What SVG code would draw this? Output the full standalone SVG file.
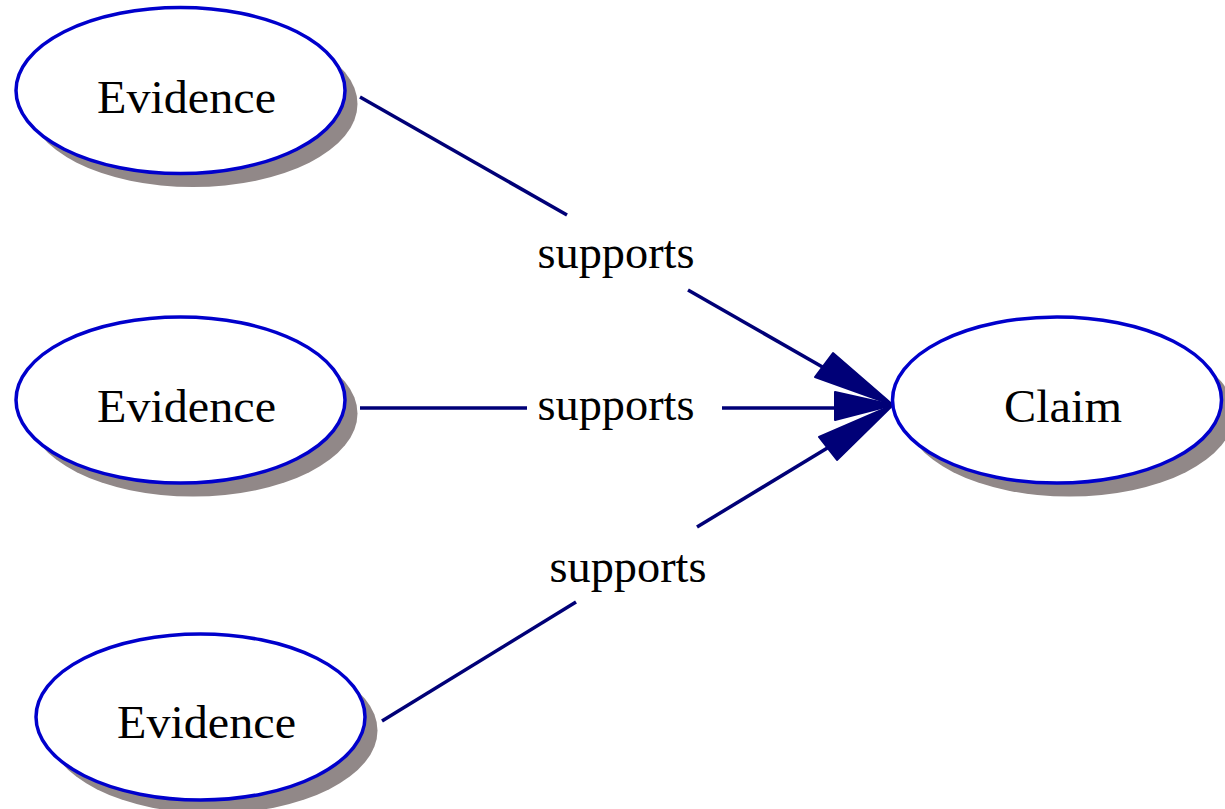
<svg xmlns="http://www.w3.org/2000/svg" width="1225" height="809" viewBox="0 0 1225 809">
<style>
.shadow{fill:#918888;stroke:none}
.node{fill:#ffffff;stroke:#0000cc;stroke-width:3.5}
.lbl{font-family:"Liberation Serif","Times New Roman",serif;font-size:47px;fill:#000000;text-anchor:middle}
.edge{stroke:#000077;stroke-width:3.5;fill:none}
.head{fill:#000077;stroke:#000077;stroke-width:2;stroke-linejoin:round}
</style>
<rect width="1225" height="809" fill="#ffffff"/>
<g id="connectors">
  <line class="edge" x1="360" y1="97" x2="567" y2="215"/>
  <line class="edge" x1="688" y1="290" x2="826" y2="369"/>
  <polygon class="head" points="815,377 833,353 893,405"/>
  <text class="lbl" x="616" y="268" textLength="157" lengthAdjust="spacingAndGlyphs">supports</text>

  <line class="edge" x1="360" y1="408" x2="527" y2="408"/>
  <line class="edge" x1="722" y1="408" x2="837" y2="408"/>
  <polygon class="head" points="835,392 835,420 893,405"/>
  <text class="lbl" x="616" y="420" textLength="157" lengthAdjust="spacingAndGlyphs">supports</text>

  <line class="edge" x1="382" y1="721" x2="576" y2="602"/>
  <line class="edge" x1="697" y1="527" x2="829" y2="447"/>
  <polygon class="head" points="819,437 837,460 893,405"/>
  <text class="lbl" x="628" y="582" textLength="157" lengthAdjust="spacingAndGlyphs">supports</text>
</g>
<g id="evidence1">
  <ellipse class="shadow" cx="193" cy="104" rx="164.5" ry="83"/>
  <ellipse class="node" cx="180.5" cy="90.5" rx="164.5" ry="83"/>
  <text class="lbl" x="186.5" y="113" textLength="179" lengthAdjust="spacingAndGlyphs">Evidence</text>
</g>
<g id="evidence2">
  <ellipse class="shadow" cx="193" cy="413.5" rx="164.5" ry="83"/>
  <ellipse class="node" cx="180.5" cy="400" rx="164.5" ry="83"/>
  <text class="lbl" x="186.5" y="422" textLength="179" lengthAdjust="spacingAndGlyphs">Evidence</text>
</g>
<g id="evidence3">
  <ellipse class="shadow" cx="213" cy="730.5" rx="164.5" ry="83"/>
  <ellipse class="node" cx="200.5" cy="717" rx="164.5" ry="83"/>
  <text class="lbl" x="206.5" y="738" textLength="179" lengthAdjust="spacingAndGlyphs">Evidence</text>
</g>
<g id="claim">
  <ellipse class="shadow" cx="1069.5" cy="413.5" rx="164.5" ry="83"/>
  <ellipse class="node" cx="1057" cy="400" rx="164.5" ry="83"/>
  <text class="lbl" x="1063" y="422" textLength="118" lengthAdjust="spacingAndGlyphs">Claim</text>
</g>
</svg>
